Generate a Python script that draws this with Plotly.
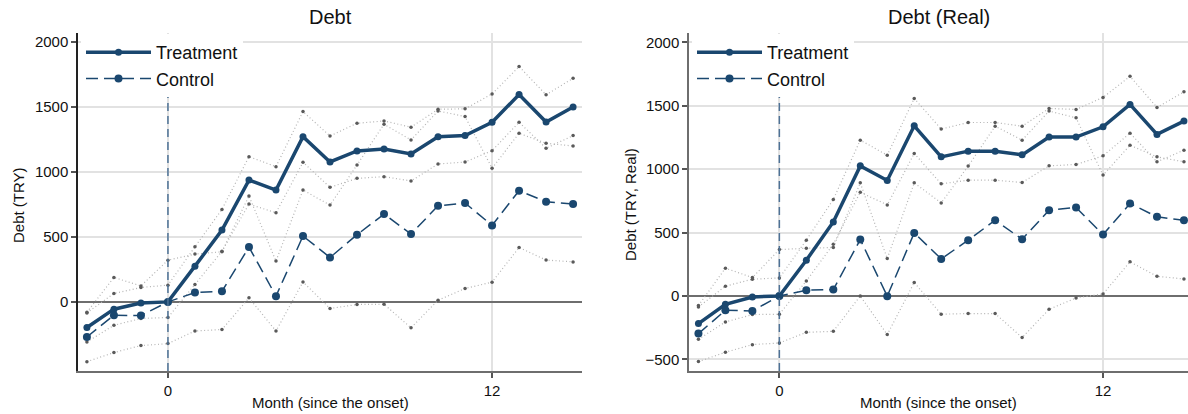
import plotly.graph_objects as go

months = list(range(-3, 16))

# Left panel: Debt (TRY)
treat_L = [-197, -56, -8, 0, 275, 553, 938, 861, 1272, 1077, 1162, 1177, 1139, 1272, 1280, 1383, 1596, 1385, 1501]
treat_lo_L = [-308, -180, -128, -120, 134, 390, 753, 686, 1075, 882, 951, 964, 931, 1062, 1077, 1164, 1383, 1183, 1280]
treat_hi_L = [-85, 65, 111, 129, 424, 712, 1118, 1041, 1465, 1277, 1375, 1393, 1345, 1483, 1486, 1601, 1812, 1594, 1722]
ctrl_L = [-270, -103, -105, 0, 72, 82, 422, 44, 507, 342, 517, 676, 522, 740, 761, 589, 856, 771, 753]
ctrl_lo_L = [-460, -390, -336, -321, -224, -213, 31, -224, 154, -51, -20, -18, -200, 13, 103, 152, 419, 322, 308]
ctrl_hi_L = [-80, 188, 123, 321, 368, 386, 815, 314, 861, 745, 1054, 1368, 1247, 1470, 1427, 1029, 1298, 1221, 1200]

# Right panel: Debt (Real)
treat_R = [-218, -66, -8, 0, 282, 584, 1026, 911, 1342, 1097, 1142, 1142, 1113, 1253, 1253, 1334, 1511, 1274, 1379]
treat_lo_R = [-342, -205, -147, -144, 118, 408, 818, 718, 1124, 884, 913, 913, 895, 1026, 1037, 1105, 1284, 1058, 1150]
treat_hi_R = [-87, 77, 132, 142, 440, 761, 1229, 1110, 1558, 1316, 1368, 1368, 1339, 1479, 1471, 1566, 1732, 1487, 1610]
ctrl_R = [-297, -113, -118, 0, 45, 50, 445, -2, 497, 292, 440, 597, 447, 676, 698, 484, 729, 624, 597]
ctrl_lo_R = [-518, -444, -384, -371, -287, -279, 0, -305, 106, -144, -139, -139, -328, -105, -16, 16, 269, 155, 134]
ctrl_hi_R = [-76, 219, 145, 366, 376, 382, 892, 295, 892, 734, 1024, 1339, 1229, 1458, 1405, 953, 1189, 1097, 1058]

titles = ["Debt", "Debt (Real)"]
ytitles = ["Debt (TRY)", "Debt (TRY, Real)"]
xtitle = "Month (since the onset)"

NAVY = "#1a476f"
FONT = "Liberation Sans, Arial, sans-serif"
W, H = 1188, 414

fig = go.Figure()

panels = [
    dict(t=treat_L, tlo=treat_lo_L, thi=treat_hi_L, c=ctrl_L, clo=ctrl_lo_L, chi=ctrl_hi_L,
         xa="x", ya="y", legend="legend"),
    dict(t=treat_R, tlo=treat_lo_R, thi=treat_hi_R, c=ctrl_R, clo=ctrl_lo_R, chi=ctrl_hi_R,
         xa="x2", ya="y2", legend="legend2"),
]

for p in panels:
    for ci in (p["thi"], p["tlo"], p["chi"], p["clo"]):
        fig.add_trace(go.Scatter(
            x=months, y=ci, xaxis=p["xa"], yaxis=p["ya"], mode="lines+markers",
            line=dict(color="#b4b4b4", width=1.2, dash="1px,2.5px"),
            marker=dict(color="#5a5a5a", size=3.5),
            showlegend=False, hoverinfo="skip"))
    fig.add_trace(go.Scatter(
        x=months, y=p["t"], xaxis=p["xa"], yaxis=p["ya"], mode="lines+markers",
        name="Treatment", legend=p["legend"],
        line=dict(color=NAVY, width=3.5),
        marker=dict(color=NAVY, size=7)))
    fig.add_trace(go.Scatter(
        x=months, y=p["c"], xaxis=p["xa"], yaxis=p["ya"], mode="lines+markers",
        name="Control", legend=p["legend"],
        line=dict(color=NAVY, width=1.5, dash="12px,6px"),
        marker=dict(color=NAVY, size=8)))

# Plot areas in pixels
L = (78, 582)
R = (689, 1188)
TOP, BOT = 33, 371

def dx(a, b):
    return [a / W, b / W]

ydom = [(H - BOT) / H, (H - TOP) / H]

axis_common = dict(
    showline=True, ticks="outside", ticklen=5, tickwidth=1.5, tickcolor="#555555",
    tickfont=dict(family=FONT, size=15, color="#111111"),
    automargin=False, mirror=False,
)

fig.update_layout(
    xaxis=dict(domain=dx(*L), range=[-3.33, 15.33], tickvals=[0, 12], showgrid=True,
               gridcolor="#e2e2e2", gridwidth=1.5, zeroline=False,
               linecolor="#6e6e6e", linewidth=2, anchor="y", **axis_common),
    yaxis=dict(domain=ydom, range=[-532, 2070], tickvals=[0, 500, 1000, 1500, 2000],
               showgrid=True, gridcolor="#e2e2e2", gridwidth=1.5,
               zeroline=True, zerolinecolor="#6e6e6e", zerolinewidth=2,
               linecolor="#222222", linewidth=1.5, anchor="x", **axis_common),
    xaxis2=dict(domain=dx(*R), range=[-3.35, 15.15], tickvals=[0, 12], showgrid=True,
                gridcolor="#e2e2e2", gridwidth=1.5, zeroline=False,
                linecolor="#6e6e6e", linewidth=2, anchor="y2", **axis_common),
    yaxis2=dict(domain=ydom, range=[-592, 2074], tickvals=[-500, 0, 500, 1000, 1500, 2000],
                showgrid=True, gridcolor="#e2e2e2", gridwidth=1.5,
                zeroline=True, zerolinecolor="#6e6e6e", zerolinewidth=2,
                linecolor="#6e6e6e", linewidth=1.5, anchor="x2", **axis_common),
)

# vertical dashed onset lines
for xa, ya in (("x", "y"), ("x2", "y2")):
    fig.add_shape(type="line", xref=xa, yref=ya + " domain", x0=0, x1=0, y0=0, y1=1,
                  line=dict(color="#4e7296", width=1.5, dash="8px,5px"), layer="above")

legend_style = dict(
    bgcolor="white", borderwidth=0, font=dict(family=FONT, size=18, color="#111111"),
    xanchor="left", yanchor="top", itemwidth=65, tracegroupgap=0,
)
fig.update_layout(
    legend=dict(x=81 / W, y=(H - 34) / H, **legend_style),
    legend2=dict(x=692 / W, y=(H - 34) / H, **legend_style),
)

anns = []
for (a, b), t, yt, xpos in ((L, titles[0], ytitles[0], 18), (R, titles[1], ytitles[1], 630)):
    cx = (a + b) / 2 / W
    anns.append(dict(text=t, x=cx, y=(H - 17) / H, xref="paper", yref="paper",
                     showarrow=False, font=dict(family=FONT, size=20, color="#111111"),
                     xanchor="center", yanchor="middle"))
    anns.append(dict(text=xtitle, x=cx, y=(H - 402) / H, xref="paper", yref="paper",
                     showarrow=False, font=dict(family=FONT, size=15, color="#111111"),
                     xanchor="center", yanchor="middle"))
    anns.append(dict(text=yt, x=xpos / W, y=(H - 205) / H, xref="paper", yref="paper",
                     showarrow=False, textangle=-90, font=dict(family=FONT, size=15, color="#111111"),
                     xanchor="center", yanchor="middle"))

fig.update_layout(
    annotations=anns,
    width=W, height=H, margin=dict(l=0, r=0, t=0, b=0),
    paper_bgcolor="white", plot_bgcolor="white", template="none",
    font=dict(family=FONT),
)

fig.write_html("out.html", config={"displayModeBar": False},
               post_script="document.body.style.margin='0px';")
